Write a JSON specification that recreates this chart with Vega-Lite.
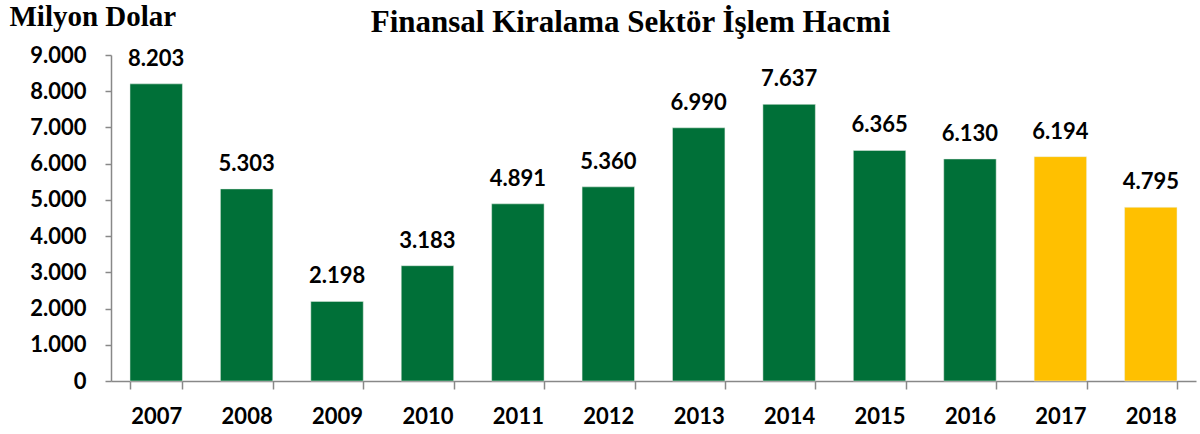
{
  "$schema": "https://vega.github.io/schema/vega-lite/v6.json",
  "width": 1085,
  "height": 326,
  "autosize": {"type": "none"},
  "padding": {"left": 111, "top": 55, "right": 4, "bottom": 53},
  "background": "white",
  "config": {
    "view": {"stroke": null},
    "locale": {"number": {"decimal": ",", "thousands": ".", "grouping": [3], "currency": ["", ""]}}
  },
  "title": {
    "text": "Finansal Kiralama Sektör İşlem Hacmi",
    "font": "Liberation Serif",
    "fontSize": 31,
    "fontWeight": "bold",
    "color": "#000000",
    "anchor": "middle",
    "dx": -23,
    "offset": -37
  },
  "data": {
    "values": [
      {"year": "2007", "value": 8203, "group": "a"},
      {"year": "2008", "value": 5303, "group": "a"},
      {"year": "2009", "value": 2198, "group": "a"},
      {"year": "2010", "value": 3183, "group": "a"},
      {"year": "2011", "value": 4891, "group": "a"},
      {"year": "2012", "value": 5360, "group": "a"},
      {"year": "2013", "value": 6990, "group": "a"},
      {"year": "2014", "value": 7637, "group": "a"},
      {"year": "2015", "value": 6365, "group": "a"},
      {"year": "2016", "value": 6130, "group": "a"},
      {"year": "2017", "value": 6194, "group": "b"},
      {"year": "2018", "value": 4795, "group": "b"}
    ]
  },
  "encoding": {
    "x": {
      "field": "year",
      "type": "nominal",
      "sort": null,
      "scale": {"paddingInner": 0.42, "paddingOuter": 0.21},
      "axis": {
        "title": null,
        "labelAngle": 0,
        "labelFont": "Lato",
        "labelFontSize": 22,
        "labelFontWeight": "bold",
        "labelColor": "#000000",
        "labelPadding": 17,
        "tickBand": "extent",
        "tickSize": 8,
        "tickColor": "#888888",
        "domainColor": "#888888",
        "domainWidth": 1.5,
        "tickWidth": 1.5
      }
    },
    "y": {
      "field": "value",
      "type": "quantitative",
      "scale": {"domain": [0, 9000], "nice": false},
      "axis": {
        "title": "Milyon Dolar",
        "titleFont": "Liberation Serif",
        "titleFontSize": 29,
        "titleFontWeight": "bold",
        "titleColor": "#000000",
        "titleAngle": 0,
        "titleAlign": "left",
        "titleBaseline": "alphabetic",
        "titleX": -102,
        "titleY": -30,
        "tickCount": 9,
        "labelExpr": "format(datum.value, ',')",
        "grid": false,
        "labelFont": "Lato",
        "labelFontSize": 22,
        "labelFontWeight": "bold",
        "labelColor": "#000000",
        "labelPadding": 19,
        "tickSize": 6,
        "tickColor": "#888888",
        "domainColor": "#888888",
        "domainWidth": 1.5,
        "tickWidth": 1.5
      }
    }
  },
  "layer": [
    {
      "mark": {"type": "bar", "stroke": "#e8f0e8", "strokeWidth": 0.5},
      "encoding": {
        "color": {
          "field": "group",
          "type": "nominal",
          "scale": {"domain": ["a", "b"], "range": ["#007038", "#FFC000"]},
          "legend": null
        }
      }
    },
    {
      "mark": {
        "type": "text",
        "font": "Lato",
        "fontSize": 22,
        "fontWeight": "bold",
        "color": "#000000",
        "baseline": "alphabetic",
        "dy": -18
      },
      "encoding": {
        "text": {"field": "value", "type": "quantitative", "format": ","}
      }
    }
  ]
}
